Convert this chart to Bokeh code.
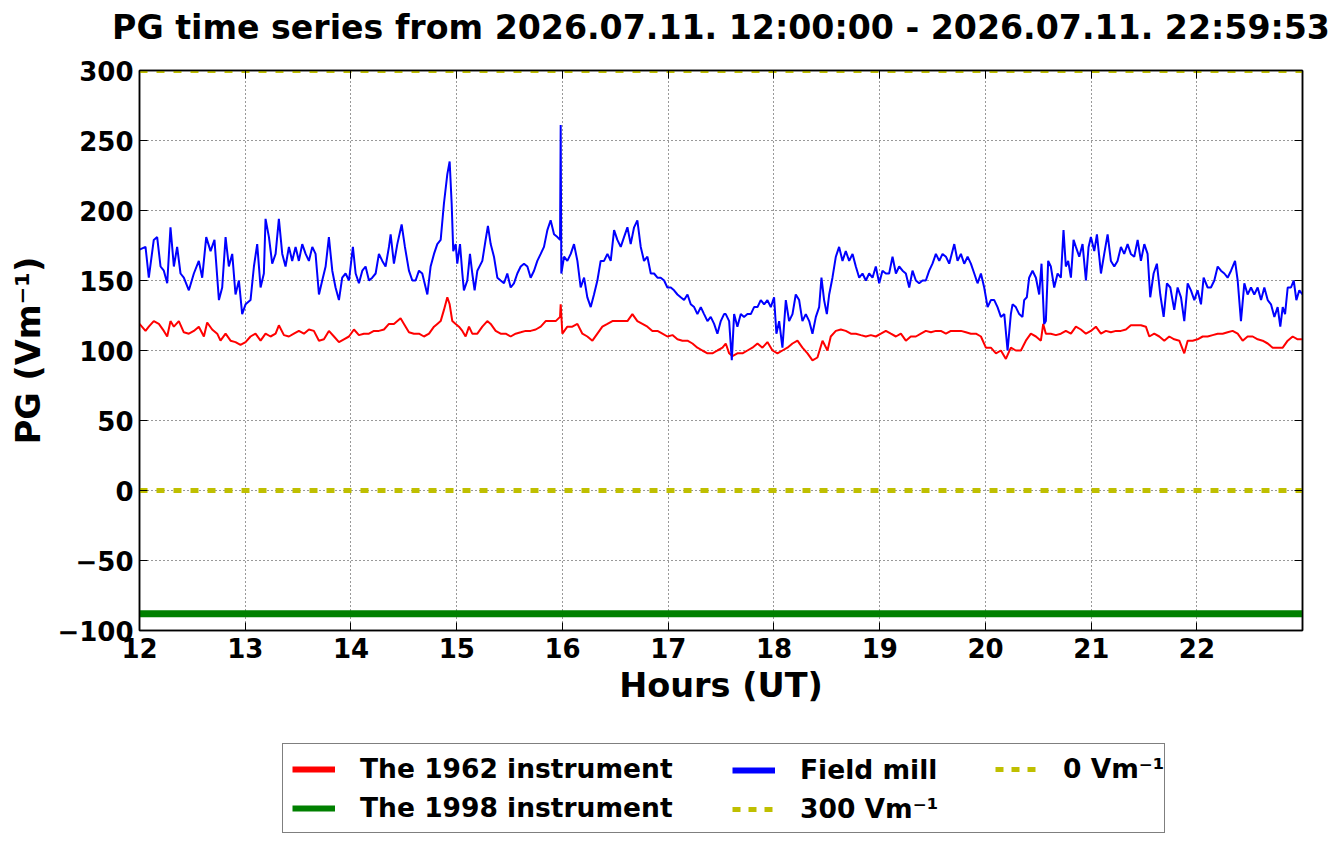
from bokeh.plotting import figure
from bokeh.layouts import column
from bokeh.models import (Range1d, FixedTicker, LinearAxis, Legend, LegendItem,
                          CustomJSTickFormatter)
from bokeh.embed import file_html
from bokeh.resources import INLINE

TITLE = "PG time series from 2026.07.11. 12:00:00 - 2026.07.11. 22:59:53"
HOUR_TICKS = [12, 13, 14, 15, 16, 17, 18, 19, 20, 21, 22]
PG_TICKS = [-100, -50, 0, 50, 100, 150, 200, 250, 300]
X_START, X_END = 12.0, 22.998
Y_START, Y_END = -100, 300

# Field mill (blue)
field_mill_hours = [
    12.000, 12.057, 12.088, 12.135, 12.167, 12.199, 12.230, 12.262, 12.293, 12.325,
    12.356, 12.388, 12.419, 12.467, 12.514, 12.561, 12.593, 12.631, 12.672, 12.709,
    12.751, 12.782, 12.814, 12.845, 12.877, 12.908, 12.940, 12.971, 13.003, 13.050,
    13.082, 13.113, 13.145, 13.176, 13.192, 13.224, 13.255, 13.287, 13.318, 13.350,
    13.381, 13.413, 13.444, 13.476, 13.507, 13.539, 13.571, 13.602, 13.634, 13.665,
    13.697, 13.728, 13.760, 13.791, 13.823, 13.854, 13.886, 13.917, 13.949, 13.981,
    14.018, 14.044, 14.075, 14.107, 14.138, 14.170, 14.201, 14.233, 14.264, 14.296,
    14.327, 14.359, 14.375, 14.406, 14.438, 14.479, 14.510, 14.548, 14.580, 14.611,
    14.643, 14.674, 14.722,
    14.753, 14.785, 14.816, 14.848, 14.879, 14.911, 14.933, 14.952, 14.967, 14.990,
    15.005, 15.031, 15.053, 15.068, 15.100, 15.125, 15.147, 15.169, 15.195, 15.242,
    15.273, 15.295, 15.321, 15.352, 15.384, 15.415, 15.447, 15.478, 15.510, 15.541,
    15.573, 15.605, 15.636, 15.668, 15.699, 15.731, 15.762, 15.794, 15.825, 15.857,
    15.888, 15.920, 15.952, 15.977, 15.983, 15.989, 16.015, 16.046, 16.078, 16.109,
    16.141, 16.172, 16.204, 16.235, 16.267, 16.298, 16.330, 16.361, 16.393, 16.425,
    16.456, 16.488, 16.519, 16.551, 16.582, 16.614, 16.645, 16.677, 16.708, 16.740,
    16.771, 16.803, 16.835, 16.866, 16.898, 16.929, 16.961, 16.992, 17.024, 17.055,
    17.087, 17.118, 17.150, 17.182, 17.213, 17.245, 17.276, 17.308, 17.339, 17.371,
    17.402, 17.434, 17.465, 17.497, 17.528,
    17.544, 17.576, 17.601, 17.623, 17.654, 17.686, 17.717, 17.749, 17.781, 17.812,
    17.844, 17.875, 17.907, 17.938, 17.970, 18.001, 18.023, 18.049, 18.080, 18.112,
    18.143, 18.175, 18.206, 18.238, 18.269, 18.301, 18.333, 18.364, 18.396, 18.427,
    18.449, 18.474, 18.500, 18.522, 18.553, 18.585, 18.616, 18.648, 18.679, 18.711,
    18.743, 18.774, 18.806, 18.837, 18.869, 18.900, 18.932, 18.963, 18.995, 19.026,
    19.058, 19.089, 19.121, 19.153, 19.184, 19.216, 19.247, 19.279, 19.310, 19.342,
    19.373, 19.405, 19.436, 19.468, 19.499, 19.531, 19.563, 19.594, 19.626, 19.657,
    19.705, 19.736, 19.768, 19.799, 19.831, 19.862, 19.894, 19.925, 19.957, 19.988,
    20.020, 20.051, 20.083, 20.114, 20.146, 20.178, 20.209,
    20.240, 20.256, 20.287, 20.319, 20.350, 20.366, 20.391, 20.413, 20.445, 20.477,
    20.508, 20.530, 20.555, 20.571, 20.593, 20.618, 20.650, 20.682, 20.713, 20.738,
    20.760, 20.782, 20.808, 20.833, 20.855, 20.887, 20.918, 20.950, 20.975, 20.997,
    21.029, 21.054, 21.076, 21.092, 21.123, 21.155, 21.186, 21.218, 21.249, 21.281,
    21.312, 21.344, 21.375, 21.407, 21.439, 21.470, 21.502, 21.533, 21.558, 21.590,
    21.621, 21.653, 21.685, 21.716, 21.748, 21.785, 21.817, 21.849, 21.880, 21.912,
    21.943, 21.975, 22.006, 22.038, 22.063, 22.101, 22.132, 22.164, 22.196, 22.227,
    22.259, 22.290, 22.322, 22.360, 22.385, 22.416, 22.448, 22.479, 22.511, 22.542,
    22.574, 22.606, 22.637, 22.669, 22.700, 22.732, 22.763, 22.788, 22.811, 22.833,
    22.858, 22.889, 22.915, 22.940, 22.968, 22.998,
]
field_mill_pg = [
    172, 174, 152, 179, 181, 160, 157, 148, 188, 160,
    174, 155, 152, 143, 155, 164, 152, 181, 171, 179,
    136, 145, 181, 160, 169, 140, 150, 126, 133, 136,
    160, 176, 145, 155, 194, 181, 162, 169, 194, 169,
    160, 174, 164, 174, 164, 176, 169, 164, 174, 169,
    140, 150, 160, 181, 157, 145, 136, 152, 155, 150,
    174, 155, 148, 157, 160, 150, 152, 155, 169, 164,
    160, 174, 183, 162, 176, 190, 174, 157, 150, 150,
    157, 155, 140,
    160, 169, 176, 179, 205, 226, 235, 205, 171, 176,
    162, 176, 155, 143, 150, 169, 155, 143, 157, 164,
    179, 189, 176, 167, 152, 150, 148, 155, 145, 148,
    155, 160, 162, 160, 152, 157, 164, 169, 174, 186,
    193, 183, 181, 179, 261, 155, 167, 164, 169, 176,
    164, 145, 152, 138, 131, 140, 150, 164, 164, 169,
    164, 186, 179, 174, 181, 188, 176, 188, 193, 174,
    164, 167, 155, 155, 152, 152, 150, 145, 145, 143,
    140, 138, 136, 140, 133, 131, 126, 131, 126, 121,
    124, 119, 112, 121, 126,
    126, 121, 93, 126, 117, 126, 124, 126, 126, 131,
    131, 136, 133, 136, 131, 138, 112, 121, 102, 136,
    121, 126, 140, 136, 121, 126, 121, 112, 124, 131,
    152, 136, 126, 140, 152, 167, 174, 164, 171, 164,
    169, 160, 152, 155, 150, 155, 152, 160, 148, 157,
    155, 155, 167, 155, 160, 157, 155, 145, 157, 150,
    148, 150, 150, 157, 162, 169, 164, 169, 167, 162,
    176, 164, 169, 162, 167, 162, 155, 148, 155, 145,
    131, 136, 136, 131, 124, 126, 100,
    126, 133, 131, 126, 124, 136, 138, 152, 157, 152,
    140, 162, 119, 121, 164, 160, 145, 155, 152, 186,
    160, 164, 152, 179, 174, 167, 176, 150, 174, 181,
    171, 183, 167, 155, 169, 183, 164, 160, 164, 174,
    169, 176, 169, 167, 179, 164, 176, 169, 138, 155,
    162, 140, 124, 148, 145, 129, 145, 138, 121, 148,
    143, 136, 143, 133, 152, 145, 145, 150, 160, 157,
    155, 152, 157, 164, 150, 121, 148, 140, 145, 140,
    145, 136, 145, 136, 133, 124, 131, 117, 131, 126,
    145, 145, 150, 136, 143, 140,
]

# The 1962 instrument (red)
inst1962_hours = [
    12.000, 12.057, 12.088, 12.135, 12.183, 12.230, 12.262, 12.293, 12.325, 12.372,
    12.419, 12.467, 12.514, 12.561, 12.609, 12.640, 12.687, 12.735, 12.766, 12.814,
    12.861, 12.908, 12.955, 13.003, 13.050, 13.097, 13.145, 13.192, 13.239, 13.287,
    13.318, 13.366, 13.413, 13.460, 13.507, 13.555, 13.602, 13.649, 13.697, 13.744,
    13.791, 13.839, 13.886, 13.933, 13.981, 14.028, 14.075, 14.122, 14.170, 14.217,
    14.264, 14.312, 14.359, 14.406, 14.469, 14.501, 14.548, 14.595, 14.643, 14.690,
    14.738,
    14.785, 14.816, 14.848, 14.879, 14.911, 14.933, 14.958, 14.990, 15.021, 15.053,
    15.084, 15.116, 15.147, 15.195, 15.242, 15.289, 15.321, 15.368, 15.415, 15.463,
    15.510, 15.557, 15.605, 15.652, 15.699, 15.747, 15.794, 15.841, 15.888, 15.936,
    15.977, 15.983, 15.999, 16.046, 16.093, 16.141, 16.188, 16.235, 16.283, 16.330,
    16.377, 16.425, 16.472, 16.519, 16.567, 16.614, 16.661, 16.708, 16.756, 16.803,
    16.850, 16.898, 16.945, 16.992, 17.040, 17.087, 17.134, 17.182, 17.229, 17.276,
    17.323, 17.371, 17.418, 17.465, 17.513,
    17.544, 17.576, 17.607, 17.654, 17.702, 17.749, 17.796, 17.844, 17.891, 17.938,
    17.986, 18.033, 18.080, 18.127, 18.175, 18.222, 18.269, 18.317, 18.364, 18.411,
    18.459, 18.506, 18.537, 18.585, 18.632, 18.679, 18.727, 18.774, 18.821, 18.869,
    18.916, 18.963, 19.011, 19.058, 19.105, 19.153, 19.200, 19.247, 19.294, 19.342,
    19.389, 19.436, 19.484, 19.531, 19.578, 19.626, 19.673, 19.720, 19.768, 19.815,
    19.862, 19.910, 19.957, 20.004, 20.051, 20.099, 20.146, 20.193,
    20.240, 20.287, 20.335, 20.382, 20.429, 20.477, 20.524, 20.546, 20.571, 20.618,
    20.666, 20.713, 20.760, 20.808, 20.855, 20.902, 20.950, 20.997, 21.044, 21.092,
    21.139, 21.186, 21.234, 21.281, 21.328, 21.375, 21.423, 21.470, 21.517, 21.549,
    21.596, 21.644, 21.691, 21.738, 21.785, 21.833, 21.880, 21.912, 21.959, 22.006,
    22.054, 22.101, 22.148, 22.196, 22.243, 22.290, 22.337, 22.385, 22.432, 22.479,
    22.527, 22.574, 22.621, 22.669, 22.716, 22.763, 22.811, 22.858, 22.905, 22.952,
    22.998,
]
inst1962_pg = [
    119, 114, 117, 121, 119, 114, 110, 121, 117, 121,
    113, 112, 114, 117, 110, 120, 115, 112, 107, 112,
    107, 106, 104, 106, 110, 112, 107, 112, 110, 112,
    118, 111, 110, 112, 114, 112, 115, 114, 107, 108,
    114, 110, 106, 108, 110, 115, 111, 112, 112, 114,
    114, 115, 119, 119, 123, 119, 113, 112, 112, 110,
    112,
    117, 119, 121, 129, 138, 133, 121, 119, 117, 114,
    110, 117, 112, 112, 117, 121, 119, 114, 112, 112,
    110, 112, 113, 114, 114, 115, 117, 121, 121, 121,
    124, 133, 112, 117, 117, 119, 112, 110, 107, 112,
    117, 119, 121, 121, 121, 121, 126, 121, 119, 117,
    114, 114, 112, 110, 111, 108, 107, 107, 105, 102,
    100, 98, 98, 100, 102,
    105, 98, 96, 98, 98, 100, 102, 105, 102, 106,
    100, 98, 100, 102, 105, 107, 102, 98, 93, 95,
    107, 100, 110, 114, 115, 114, 112, 112, 111, 110,
    111, 110, 112, 114, 112, 110, 112, 107, 110, 110,
    112, 114, 113, 114, 114, 112, 114, 114, 114, 113,
    112, 112, 110, 102, 102, 98, 100, 94,
    102, 100, 100, 107, 112, 110, 107, 119, 112, 112,
    111, 112, 114, 112, 117, 115, 112, 114, 117, 112,
    114, 113, 114, 114, 115, 118, 118, 118, 117, 110,
    112, 110, 107, 110, 108, 107, 98, 107, 107, 108,
    110, 110, 111, 112, 112, 113, 114, 112, 107, 110,
    110, 108, 107, 105, 102, 102, 102, 107, 110, 108,
    108,
]

# The 1998 instrument (green)
inst1998_hours = [12.0, 22.998]
inst1998_pg = [-88, -88]

# Reference levels (yellow dotted)
ref_levels = [0, 300]

FONT = "DejaVu Sans"
RED, GREEN, BLUE, YELLOW = "#ff0000", "#008000", "#0000ff", "#bfbf00"
W = 1333

# ---- title strip (its frame lines up with the plot frame, so the title is centred on it) ----
tf = figure(width=W, height=52, output_backend="svg", toolbar_location=None,
            x_range=Range1d(0, 1), y_range=Range1d(0, 1),
            x_axis_type=None, y_axis_type=None, min_border=0, title=TITLE)
tf.outline_line_color = None
tf.grid.visible = False
tf.title.text_font = FONT
tf.title.text_font_size = "33.2px"
tf.title.text_font_style = "bold"
tf.title.text_color = "black"
tf.title.align = "center"
tf.title.standoff = 10

# ---- main plot ----
p = figure(width=W, height=659, output_backend="svg", toolbar_location=None,
           x_range=Range1d(X_START, X_END), y_range=Range1d(Y_START, Y_END),
           min_border_left=139, min_border_right=31, min_border_top=18,
           min_border_bottom=81, title=None)

p.outline_line_color = "black"
p.outline_line_width = 1.5

p.line(inst1962_hours, inst1962_pg, line_color=RED, line_width=2)
p.line(inst1998_hours, inst1998_pg, line_color=GREEN, line_width=7)
p.line(field_mill_hours, field_mill_pg, line_color=BLUE, line_width=2)
for lvl in ref_levels:
    p.line([X_START, X_END], [lvl, lvl], line_color=YELLOW, line_width=5, line_dash="8 9")

for ax in (p.xaxis[0], p.yaxis[0]):
    ax.major_label_text_font = FONT
    ax.major_label_text_font_size = "26px"
    ax.major_label_text_font_style = "bold"
    ax.major_label_text_color = "black"
    ax.axis_label_text_font = FONT
    ax.axis_label_text_font_size = "33.5px"
    ax.axis_label_text_font_style = "bold"
    ax.axis_label_text_color = "black"
    ax.major_tick_in = 8
    ax.major_tick_out = 0
    ax.minor_tick_in = 0
    ax.minor_tick_out = 0
    ax.axis_line_width = 1.5
    ax.major_tick_line_color = "black"
    ax.axis_line_color = "black"

p.xaxis.ticker = FixedTicker(ticks=HOUR_TICKS)
p.yaxis.ticker = FixedTicker(ticks=PG_TICKS)
p.yaxis.major_label_overrides = {t: str(t).replace("-", "\u2212") for t in PG_TICKS}
p.xaxis.axis_label = "Hours (UT)"
p.yaxis.axis_label = "PG (Vm\u207b\u00b9)"
p.xaxis.major_label_standoff = 7
p.xaxis.axis_label_standoff = 5
p.yaxis.major_label_standoff = 6
p.yaxis.axis_label_standoff = 6

blank = CustomJSTickFormatter(code="return ''")
right_ax = LinearAxis(ticker=FixedTicker(ticks=PG_TICKS), formatter=blank,
                      major_tick_in=8, major_tick_out=0, minor_tick_in=0, minor_tick_out=0,
                      major_label_standoff=0, axis_line_width=1.5,
                      axis_line_color="black", major_tick_line_color="black")
top_ax = LinearAxis(ticker=FixedTicker(ticks=HOUR_TICKS), formatter=blank,
                    major_tick_in=8, major_tick_out=0, minor_tick_in=0, minor_tick_out=0,
                    major_label_standoff=0, axis_line_width=1.5,
                    axis_line_color="black", major_tick_line_color="black")
p.add_layout(right_ax, "right")
p.add_layout(top_ax, "above")

p.xgrid.ticker = FixedTicker(ticks=HOUR_TICKS)
p.ygrid.ticker = FixedTicker(ticks=PG_TICKS)
for g in (p.xgrid[0], p.ygrid[0]):
    g.grid_line_color = "black"
    g.grid_line_alpha = 0.8
    g.grid_line_dash = "1 3"
    g.grid_line_width = 1

# ---- legend strip below the plot (its frame lines up with the plot frame) ----
lf = figure(width=W, height=125, output_backend="svg", toolbar_location=None,
            x_range=Range1d(0, 1), y_range=Range1d(0, 1),
            x_axis_type=None, y_axis_type=None, min_border=0)
lf.outline_line_color = None
lf.grid.visible = False

# swatch renderers: same series, lying outside this strip's ranges (only the legend shows)
lg_red = lf.line(inst1962_hours, inst1962_pg, line_color=RED, line_width=6)
lg_green = lf.line(inst1998_hours, inst1998_pg, line_color=GREEN, line_width=6)
lg_blue = lf.line(field_mill_hours, field_mill_pg, line_color=BLUE, line_width=6)
lg_y300 = lf.line([X_START, X_END], [ref_levels[1], ref_levels[1]], line_color=YELLOW,
                  line_width=5, line_dash="8 8")
lg_y0 = lf.line([X_START, X_END], [ref_levels[0], ref_levels[0]], line_color=YELLOW,
                line_width=5, line_dash="8 8")


def make_legend(items, loc, box, label_width=20):
    lg = Legend(items=items, location=loc, orientation="vertical",
                label_text_font=FONT, label_text_font_size="26.5px",
                label_text_font_style="bold", label_text_color="black",
                glyph_width=43, glyph_height=30,
                label_height=30, label_standoff=25, spacing=8, padding=9,
                margin=0, label_width=label_width)
    if box:
        lg.border_line_color = "black"
        lg.border_line_width = 1.2
        lg.background_fill_color = "white"
        lg.background_fill_alpha = 1
    else:
        lg.border_line_color = None
        lg.background_fill_alpha = 0
    return lg


leg1 = make_legend([LegendItem(label="The 1962 instrument", renderers=[lg_red]),
                    LegendItem(label="The 1998 instrument", renderers=[lg_green])],
                   (143, 3), True, label_width=795)
leg2 = make_legend([LegendItem(label="Field mill", renderers=[lg_blue]),
                    LegendItem(label="300 Vm\u207b\u00b9", renderers=[lg_y300])],
                   (593, 12), False)
leg3 = make_legend([LegendItem(label="0 Vm\u207b\u00b9", renderers=[lg_y0])],
                   (856, 52), False)
for lg in (leg1, leg2, leg3):
    lf.add_layout(lg, "center")

layout = column(tf, p, lf, spacing=0)
open("out.html", "w").write(file_html(layout, INLINE))
